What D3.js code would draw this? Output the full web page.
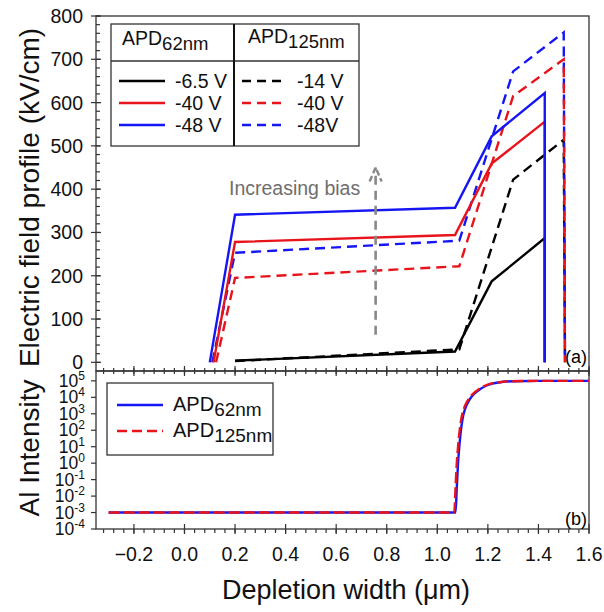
<!DOCTYPE html>
<html><head><meta charset="utf-8">
<script src="https://cdn.jsdelivr.net/npm/d3@7"></script>
<style>body{margin:0;background:#fff}svg{display:block;font-family:"Liberation Sans",Arial,sans-serif}</style>
</head><body><svg id="c" width="604" height="612"></svg>
<script>
// ---------- data (top panel: electric field, kV/cm) ----------
const xTicks = [-0.2,0.0,0.2,0.4,0.6,0.8,1.0,1.2,1.4,1.6];
const yTopTicks = [0,100,200,300,400,500,600,700,800];
const yBotExps = [-4,-3,-2,-1,0,1,2,3,4,5];

const apd62_6p5_x = [0.2, 1.07, 1.215, 1.425, 1.425];
const apd62_6p5_y = [4, 25, 187, 287, 0];
const apd62_40_x  = [0.115, 0.2, 1.07, 1.215, 1.425, 1.425];
const apd62_40_y  = [0, 278, 294, 459, 556, 0];
const apd62_48_x  = [0.10, 0.2, 1.07, 1.215, 1.425, 1.425];
const apd62_48_y  = [0, 341, 357, 522, 622, 0];

const apd125_14_x = [0.2, 1.087, 1.30, 1.50, 1.505];
const apd125_14_y = [3, 30, 422, 514, 0];
const apd125_40_x = [0.125, 0.2, 1.087, 1.30, 1.50, 1.505];
const apd125_40_y = [0, 195, 222, 615, 700, 0];
const apd125_48_x = [0.11, 0.2, 1.087, 1.30, 1.50, 1.505];
const apd125_48_y = [0, 253, 281, 672, 762, 0];

// ---------- data (bottom panel: Al intensity, log10) ----------
const al62_x  = [-0.30, 1.072, 1.077, 1.082, 1.087, 1.092, 1.10, 1.11, 1.125, 1.145, 1.17, 1.20, 1.25, 1.30, 1.40, 1.60];
const al62_e  = [-3, -3, -1.5, 0, 1, 1.8, 2.7, 3.3, 3.8, 4.2, 4.5, 4.75, 4.92, 4.98, 5.0, 5.0];
const al125_x = [-0.30, 1.067, 1.072, 1.077, 1.082, 1.087, 1.095, 1.105, 1.12, 1.14, 1.165, 1.195, 1.245, 1.295, 1.40, 1.60];
const al125_e = [-3, -3, -1.5, 0, 1, 1.8, 2.7, 3.3, 3.8, 4.2, 4.5, 4.75, 4.92, 4.98, 5.0, 5.0];

const arrowX = 0.756, arrowY = [64, 450];

const RED = "#e8131b", BLUE = "#1616f5", BLACK = "#000";

// ---------- layout ----------
const svg = d3.select("#c");
const L = 96, R = 589, T = 16, M = 371, B = 529;
const x = d3.scaleLinear([-0.35, 1.6], [L, R]);
const yT = d3.scaleLinear([-20, 800], [M, T]);
const yB = d3.scaleLog([1e-4, Math.pow(10, 5.6)], [B, M]);

const zip = (xs, ys) => xs.map((v, i) => [v, ys[i]]);
const lineT = d3.line().x(d => x(d[0])).y(d => yT(d[1]));
const lineB = d3.line().x(d => x(d[0])).y(d => yB(Math.pow(10, d[1]))).curve(d3.curveMonotoneX);

// frames
svg.append("rect").attr("x", L).attr("y", T).attr("width", R - L).attr("height", M - T)
  .attr("fill", "none").attr("stroke", "#333").attr("stroke-width", 1.3);
svg.append("rect").attr("x", L).attr("y", M).attr("width", R - L).attr("height", B - M)
  .attr("fill", "none").attr("stroke", "#333").attr("stroke-width", 1.3);

const tickG = svg.append("g").attr("stroke", "#333").attr("stroke-width", 1.2);
const minorX = d3.range(-8, 41).map(i => i * 0.04).filter(v => v >= -0.33);
// top panel bottom axis (crossing ticks)
minorX.forEach(v => tickG.append("line").attr("x1", x(v)).attr("x2", x(v)).attr("y1", M - 3).attr("y2", M + 3));
xTicks.forEach(v => tickG.append("line").attr("x1", x(v)).attr("x2", x(v)).attr("y1", M - 5).attr("y2", M + 5));
// bottom panel bottom axis
minorX.forEach(v => tickG.append("line").attr("x1", x(v)).attr("x2", x(v)).attr("y1", B).attr("y2", B + 4));
xTicks.forEach(v => tickG.append("line").attr("x1", x(v)).attr("x2", x(v)).attr("y1", B - 5).attr("y2", B + 5));
// top panel left axis
d3.range(0, 801, 20).forEach(v => tickG.append("line").attr("x1", L).attr("x2", L + 4).attr("y1", yT(v)).attr("y2", yT(v)));
yTopTicks.forEach(v => tickG.append("line").attr("x1", L - 5).attr("x2", L + 5).attr("y1", yT(v)).attr("y2", yT(v)));
// bottom panel left axis
yBotExps.forEach(e => tickG.append("line").attr("x1", L - 5).attr("x2", L).attr("y1", yB(Math.pow(10, e))).attr("y2", yB(Math.pow(10, e))));

// tick labels
const lab = svg.append("g").attr("font-size", 19.5).attr("fill", "#111");
xTicks.forEach(v => lab.append("text").attr("x", x(v)).attr("y", B + 32).attr("text-anchor", "middle").text(d3.format(".1f")(v)));
yTopTicks.forEach(v => lab.append("text").attr("x", L - 13).attr("y", yT(v) + 7).attr("text-anchor", "end").text(v));
yBotExps.forEach(e => {
  const t = lab.append("text").attr("x", L - 11).attr("y", yB(Math.pow(10, e)) + 6).attr("text-anchor", "end").attr("font-size", 17.5);
  t.append("tspan").text("10");
  t.append("tspan").attr("font-size", 12).attr("dy", -7).text(e);
});

// axis titles
svg.append("text").attr("transform", `translate(39,${(T + M) / 2 + 4}) rotate(-90)`).attr("text-anchor", "middle")
  .attr("font-size", 28).attr("fill", "#111").text("Electric field profile (kV/cm)");
svg.append("text").attr("transform", `translate(39,${(M + B) / 2 - 2}) rotate(-90)`).attr("text-anchor", "middle")
  .attr("font-size", 28).attr("fill", "#111").text("Al Intensity");
svg.append("text").attr("x", 346).attr("y", 599).attr("text-anchor", "middle").attr("font-size", 27).attr("fill", "#111")
  .text("Depletion width (\u03bcm)");

// panel labels
svg.append("text").attr("x", 587).attr("y", 363).attr("text-anchor", "end").attr("font-size", 18).text("(a)");
svg.append("text").attr("x", 587).attr("y", 525).attr("text-anchor", "end").attr("font-size", 18).text("(b)");

// ---------- top panel curves ----------
const plotG = svg.append("g").attr("fill", "none").attr("stroke-width", 2.4).attr("stroke-linejoin", "miter");
const dash = "10,6";
[[apd125_14_x, apd125_14_y, BLACK], [apd125_48_x, apd125_48_y, BLUE], [apd125_40_x, apd125_40_y, RED]].forEach(s =>
  plotG.append("path").attr("d", lineT(zip(s[0], s[1]))).attr("stroke", s[2]).attr("stroke-dasharray", dash));
[[apd62_6p5_x, apd62_6p5_y, BLACK], [apd62_40_x, apd62_40_y, RED], [apd62_48_x, apd62_48_y, BLUE]].forEach(s =>
  plotG.append("path").attr("d", lineT(zip(s[0], s[1]))).attr("stroke", s[2]));

// increasing bias arrow
const ax = x(arrowX), ay0 = yT(arrowY[0]), ay1 = yT(arrowY[1]);
svg.append("line").attr("x1", ax).attr("x2", ax).attr("y1", ay0).attr("y2", ay1)
  .attr("stroke", "#888").attr("stroke-width", 2.6).attr("stroke-dasharray", "9,6");
svg.append("path").attr("d", `M${ax - 6},${ay1 + 14}L${ax},${ay1}L${ax + 6},${ay1 + 14}`)
  .attr("fill", "none").attr("stroke", "#888").attr("stroke-width", 2.4).attr("stroke-dasharray", "6,3");
svg.append("text").attr("x", 229).attr("y", 195).attr("font-size", 19.5).attr("fill", "#6e6e6e").text("Increasing bias");

// ---------- top legend ----------
const lg = svg.append("g");
const LX0 = 111, LX1 = 359, LY0 = 24, LY1 = 146, LYH = 61, LXM = 234;
lg.append("rect").attr("x", LX0).attr("y", LY0).attr("width", LX1 - LX0).attr("height", LY1 - LY0)
  .attr("fill", "#fff").attr("stroke", "#333").attr("stroke-width", 1.3);
lg.append("line").attr("x1", LX0).attr("x2", LX1).attr("y1", LYH).attr("y2", LYH).attr("stroke", "#333").attr("stroke-width", 1.3);
lg.append("line").attr("x1", LXM).attr("x2", LXM).attr("y1", LY0).attr("y2", LY1).attr("stroke", "#111").attr("stroke-width", 2);
function apdLabel(g, px, py, sub, fs, sfs) {
  const t = g.append("text").attr("x", px).attr("y", py).attr("font-size", fs).attr("fill", "#111");
  t.append("tspan").text("APD");
  t.append("tspan").attr("font-size", sfs).attr("dy", 5).text(sub);
}
apdLabel(lg, 122, 45, "62nm", 19.5, 18.5);
apdLabel(lg, 248, 43, "125nm", 19.5, 18.5);
const rowsY = [81, 103, 125];
const leftLabels = ["-6.5 V", "-40 V", "-48 V"], rightLabels = ["-14 V", "-40 V", "-48V"];
const cols = [BLACK, RED, BLUE];
rowsY.forEach((ry, i) => {
  lg.append("line").attr("x1", 119).attr("x2", 165).attr("y1", ry).attr("y2", ry).attr("stroke", cols[i]).attr("stroke-width", 2.4);
  lg.append("text").attr("x", 175).attr("y", ry + 7).attr("font-size", 19.5).attr("fill", "#111").text(leftLabels[i]);
  lg.append("line").attr("x1", 242).attr("x2", 282).attr("y1", ry).attr("y2", ry).attr("stroke", cols[i]).attr("stroke-width", 2.4).attr("stroke-dasharray", "9,6");
  lg.append("text").attr("x", 297).attr("y", ry + 7).attr("font-size", 19.5).attr("fill", "#111").text(rightLabels[i]);
});

// ---------- bottom panel curves ----------
const bG = svg.append("g").attr("fill", "none").attr("stroke-width", 2.4);
bG.append("path").attr("d", lineB(zip(al62_x, al62_e))).attr("stroke", BLUE);
bG.append("path").attr("d", lineB(zip(al125_x, al125_e))).attr("stroke", RED).attr("stroke-dasharray", "11,4");

// bottom legend
const bl = svg.append("g");
bl.append("rect").attr("x", 107).attr("y", 383).attr("width", 166).attr("height", 72)
  .attr("fill", "#fff").attr("stroke", "#333").attr("stroke-width", 1.3);
bl.append("line").attr("x1", 117).attr("x2", 163).attr("y1", 405).attr("y2", 405).attr("stroke", BLUE).attr("stroke-width", 2.4);
bl.append("line").attr("x1", 117).attr("x2", 163).attr("y1", 431).attr("y2", 431).attr("stroke", RED).attr("stroke-width", 2.4).attr("stroke-dasharray", "10,5");
apdLabel(bl, 173, 411, "62nm", 20, 19);
apdLabel(bl, 173, 437, "125nm", 20, 19);
</script></body></html>
